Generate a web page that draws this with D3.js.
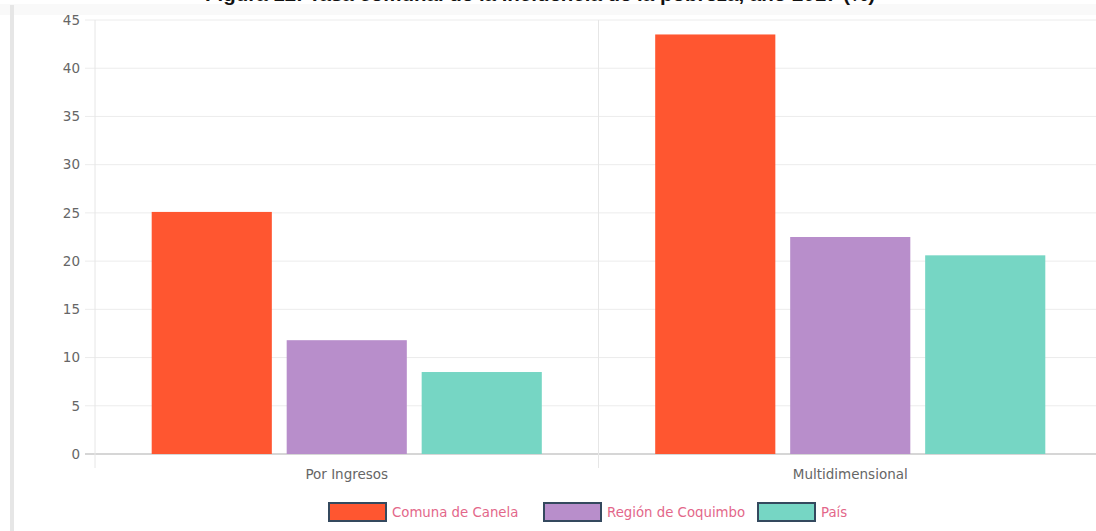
<!DOCTYPE html>
<html><head><meta charset="utf-8">
<script src="https://cdn.jsdelivr.net/npm/d3@7"></script>
<style>
body{margin:0;background:#fff;overflow:hidden}
svg{display:block;font-family:"DejaVu Sans",sans-serif}
</style></head>
<body><svg id="c" width="1096" height="531"></svg>
<script>
const categories = ["Por Ingresos", "Multidimensional"];
const seriesNames = ["Comuna de Canela", "Región de Coquimbo", "País"];
const seriesColors = ["#ff5630", "#b88ecb", "#76d6c4"];
const canela = [25.1, 43.5];
const coquimbo = [11.8, 22.5];
const pais = [8.5, 20.6];
const yTicks = [0, 5, 10, 15, 20, 25, 30, 35, 40, 45];
const title = "Figura 12: Tasa comunal de la incidencia de la pobreza, año 2017 (%)";

const seriesValues = [canela, coquimbo, pais];
const svg = d3.select("#c");
const m = {l: 95, t: 20, r: -6, b: 77};
const W = 1096, H = 531;

// light band under the (clipped) title
svg.append("rect").attr("x", 0).attr("y", 4).attr("width", W).attr("height", 11).attr("fill", "#f9f9f9");
// title (clipped at top as in the reference)
svg.append("text").attr("x", 205).attr("y", 1).attr("text-anchor", "start")
  .attr("textLength", 670).attr("lengthAdjust", "spacingAndGlyphs")
  .attr("font-family", "Liberation Sans, Arial, sans-serif")
  .attr("font-weight", "bold").attr("font-size", 19).attr("fill", "#111").text(title);
// left page border
svg.append("rect").attr("x", 10).attr("y", 5).attr("width", 4).attr("height", H).attr("fill", "#e6e6e6");

const x0 = d3.scaleBand().domain(categories).range([m.l, W - m.r]).paddingInner(0).paddingOuter(0);
const x1 = d3.scaleBand().domain(seriesNames).range([0, x0.bandwidth()]).paddingInner(0.11).paddingOuter(0.42);
const y = d3.scaleLinear().domain([0, 45]).range([H - m.b, m.t]);

// horizontal grid
svg.append("g").selectAll("line").data(yTicks).join("line")
  .attr("x1", m.l - 10).attr("x2", W).attr("y1", d => y(d)).attr("y2", d => y(d))
  .attr("stroke", d => d === 0 ? "#c8c8c8" : "#ececec").attr("stroke-width", d => d === 0 ? 1.5 : 1);
// vertical grid (category separators)
const vx = [m.l, x0.range()[0] + x0.step()];
svg.append("g").selectAll("line").data(vx).join("line")
  .attr("x1", d => d).attr("x2", d => d).attr("y1", m.t).attr("y2", y(0) + 14)
  .attr("stroke", "#e6e6e6");

// y axis labels
const yAxis = d3.axisLeft(y).tickValues(yTicks).tickSize(0).tickPadding(15);
const ya = svg.append("g").attr("transform", `translate(${m.l},0)`).call(yAxis);
ya.select(".domain").remove();
ya.selectAll("text").attr("font-size", 13.5).attr("fill", "#666").attr("font-family", "DejaVu Sans, sans-serif");

// x axis labels
const xAxis = d3.axisBottom(x0).tickSize(0).tickPadding(15);
const xa = svg.append("g").attr("transform", `translate(0,${y(0)})`).call(xAxis);
xa.select(".domain").remove();
xa.selectAll("text").attr("font-size", 13.5).attr("fill", "#666").attr("font-family", "DejaVu Sans, sans-serif");

// bars
const groups = svg.append("g").selectAll("g").data(categories).join("g")
  .attr("transform", d => `translate(${x0(d)},0)`);
groups.selectAll("rect").data((c, ci) => seriesNames.map((s, si) => ({s, si, v: seriesValues[si][ci]})))
  .join("rect")
  .attr("x", d => x1(d.s)).attr("width", x1.bandwidth())
  .attr("y", d => y(d.v)).attr("height", d => y(0) - y(d.v))
  .attr("fill", d => seriesColors[d.si]);

// legend
const legX = [329, 544, 758];
const lg = svg.append("g").selectAll("g").data(seriesNames).join("g")
  .attr("transform", (d, i) => `translate(${legX[i]},503)`);
lg.append("rect").attr("width", 57).attr("height", 18)
  .attr("fill", (d, i) => seriesColors[i]).attr("stroke", "#34495e").attr("stroke-width", 2);
lg.append("text").attr("x", 63).attr("y", 14).attr("font-size", 13.3)
  .attr("fill", "#e3678a").text(d => d);
</script></body></html>
